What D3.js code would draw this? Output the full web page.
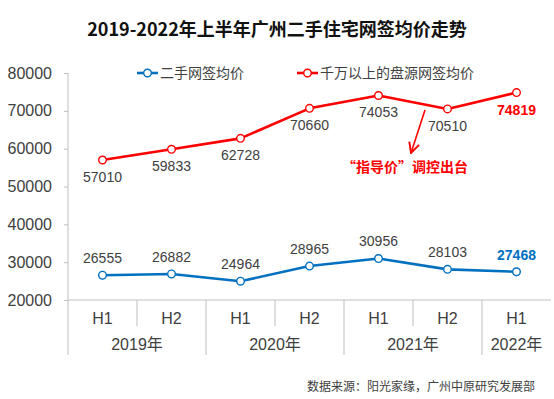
<!DOCTYPE html>
<html>
<head>
<meta charset="utf-8">
<script src="https://cdn.jsdelivr.net/npm/d3@7"></script>
<style>
    body { margin: 0; background: #fff; }
    text { font-family: "Liberation Sans", Arial, "Noto Sans CJK SC", sans-serif; }
    .cjk { font-family: "Noto Sans CJK SC", "Liberation Sans", sans-serif; }
</style>
</head>
<body>
<svg id="chart"></svg>
<script>
const width = 554,
    height = 399;

const halfLabels = ["H1", "H2", "H1", "H2", "H1", "H2", "H1"];
const yearLabels = ["2019年", "2019年", "2020年", "2020年", "2021年", "2021年", "2022年"];
const resale = [26555, 26882, 24964, 28965, 30956, 28103, 27468];
const luxury = [57010, 59833, 62728, 70660, 74053, 70510, 74819];
const yTicks = [20000, 30000, 40000, 50000, 60000, 70000, 80000];
const seriesNames = ["二手网签均价", "千万以上的盘源网签均价"];

const blue = "#0070c0",
    red = "#ff0000",
    axisColor = "#bfbfbf",
    textColor = "#404040";

let svg = d3.select("#chart").attr("width", width).attr("height", height);

let x = d3.scaleBand().domain(d3.range(halfLabels.length)).range([68, 551]);
let y = d3.scaleLinear().domain([20000, 80000]).range([300, 73]);
let cx = i => x(i) + x.bandwidth() / 2;

// title
svg.append("text")
    .attr("class", "cjk")
    .attr("x", 277).attr("y", 36)
    .attr("text-anchor", "middle")
    .attr("font-size", 18).attr("font-weight", "bold")
    .attr("fill", "#111")
    .text("2019-2022年上半年广州二手住宅网签均价走势");

// y axis
let yAxis = svg.append("g")
    .attr("transform", "translate(68,0)")
    .call(d3.axisLeft(y).tickValues(yTicks).tickSize(4).tickPadding(12).tickFormat(d3.format("d")));
yAxis.select(".domain").remove();
yAxis.selectAll(".tick line").attr("stroke", axisColor);
yAxis.selectAll(".tick text").attr("fill", textColor).attr("font-size", 16)
    .style("font-family", "'Liberation Sans', Arial, sans-serif");

svg.append("line")
    .attr("x1", 68).attr("x2", 68).attr("y1", y(80000)).attr("y2", 355)
    .attr("stroke", axisColor);

// category axis
svg.append("line")
    .attr("x1", 68).attr("x2", 551).attr("y1", y(20000)).attr("y2", y(20000))
    .attr("stroke", axisColor);

d3.range(1, halfLabels.length).forEach(i => {
    let yearBreak = yearLabels[i] != yearLabels[i - 1];
    svg.append("line")
        .attr("x1", x(i)).attr("x2", x(i))
        .attr("y1", y(20000)).attr("y2", yearBreak ? 355 : 326)
        .attr("stroke", axisColor);
});

svg.append("g").selectAll("text").data(halfLabels).join("text")
    .attr("x", (d, i) => cx(i)).attr("y", 318)
    .attr("dy", "0.35em")
    .attr("text-anchor", "middle")
    .attr("font-size", 16).attr("fill", textColor)
    .text(d => d);

let yearGroups = d3.groups(yearLabels.map((d, i) => ({year: d, i: i})), d => d.year);
svg.append("g").selectAll("text").data(yearGroups).join("text")
    .attr("x", d => (x(d[1][0].i) + x(d[1][d[1].length - 1].i) + x.bandwidth()) / 2)
    .attr("y", 344)
    .attr("dy", "0.35em")
    .attr("text-anchor", "middle")
    .attr("font-size", 16).attr("fill", textColor)
    .text(d => d[0]);

// lines
let line = d3.line().x((d, i) => cx(i)).y(d => y(d));

function drawSeries(values, color, labelOffset) {
    let g = svg.append("g");
    g.append("path")
        .datum(values)
        .attr("d", line)
        .attr("fill", "none")
        .attr("stroke", color)
        .attr("stroke-width", 2.6)
        .attr("stroke-linejoin", "round");
    g.selectAll("circle").data(values).join("circle")
        .attr("cx", (d, i) => cx(i)).attr("cy", d => y(d))
        .attr("r", 3.8)
        .attr("fill", "#fff")
        .attr("stroke", color)
        .attr("stroke-width", 1.4);
    g.selectAll("text").data(values).join("text")
        .attr("x", (d, i) => cx(i)).attr("y", d => y(d) + labelOffset)
        .attr("dy", "0.35em")
        .attr("text-anchor", "middle")
        .attr("font-size", 14)
        .attr("fill", (d, i) => i == values.length - 1 ? color : textColor)
        .attr("font-weight", (d, i) => i == values.length - 1 ? "bold" : "normal")
        .text(d => d);
}

drawSeries(resale, blue, -17);
drawSeries(luxury, red, 17);

// legend
let legend = [
    {name: seriesNames[0], color: blue, x: 137},
    {name: seriesNames[1], color: red, x: 297}
];
legend.forEach(d => {
    let g = svg.append("g").attr("transform", `translate(${d.x},73)`);
    g.append("line").attr("x1", 0).attr("x2", 21)
        .attr("stroke", d.color).attr("stroke-width", 2.6);
    g.append("circle").attr("cx", 10.5).attr("r", 3.8)
        .attr("fill", "#fff").attr("stroke", d.color).attr("stroke-width", 1.4);
    g.append("text").attr("class", "cjk")
        .attr("x", 23).attr("dy", "0.35em")
        .attr("font-size", 14).attr("fill", textColor)
        .text(d.name);
});

// annotation
svg.append("defs").append("marker")
    .attr("id", "arrow")
    .attr("viewBox", "0 0 10 10")
    .attr("refX", 9).attr("refY", 5)
    .attr("markerWidth", 8).attr("markerHeight", 8)
    .attr("orient", "auto")
    .append("path")
    .attr("d", "M1,1 L9,5 L1,9")
    .attr("fill", "none")
    .attr("stroke", red)
    .attr("stroke-width", 1.5);

svg.append("line")
    .attr("x1", 425).attr("y1", 110)
    .attr("x2", 411).attr("y2", 153)
    .attr("stroke", red).attr("stroke-width", 1.6)
    .attr("marker-end", "url(#arrow)");

svg.append("text").attr("class", "cjk")
    .attr("x", 405).attr("y", 167)
    .attr("dy", "0.35em")
    .attr("text-anchor", "middle")
    .attr("font-size", 14).attr("font-weight", "bold")
    .attr("fill", red)
    .text("“指导价”调控出台");

// source
svg.append("text").attr("class", "cjk")
    .attr("x", 535).attr("y", 387)
    .attr("dy", "0.35em")
    .attr("text-anchor", "end")
    .attr("font-size", 12).attr("fill", textColor)
    .text("数据来源：阳光家缘，广州中原研究发展部");
</script>
</body>
</html>
